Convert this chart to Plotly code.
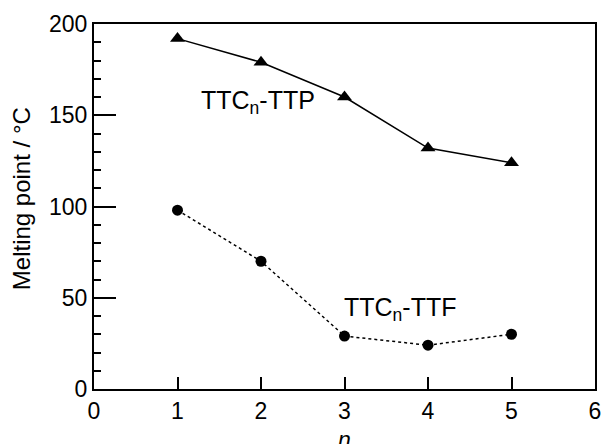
import plotly.graph_objects as go

n_vals = [1, 2, 3, 4, 5]
ttp_mp = [192, 179, 160, 132, 124]
ttf_mp = [98, 70, 29, 24, 30]
x_ticks = [0, 1, 2, 3, 4, 5, 6]
y_ticks = [0, 50, 100, 150, 200]

FONT = "Liberation Sans, Arial"

fig = go.Figure()
fig.add_trace(go.Scatter(x=n_vals, y=ttp_mp, mode="lines+markers",
                         line=dict(color="black", width=1.5),
                         marker=dict(symbol="triangle-up", size=13, color="black"),
                         showlegend=False))
fig.add_trace(go.Scatter(x=n_vals, y=ttf_mp, mode="lines+markers",
                         line=dict(color="black", width=1.5, dash="dot"),
                         marker=dict(symbol="circle", size=11, color="black"),
                         showlegend=False))

fig.add_annotation(x=1.26, y=157, text="TTC<sub>n</sub>-TTP", showarrow=False,
                   xanchor="left", yanchor="middle",
                   font=dict(family=FONT, size=25, color="black"))
fig.add_annotation(x=2.97, y=44, text="TTC<sub>n</sub>-TTF", showarrow=False,
                   xanchor="left", yanchor="middle",
                   font=dict(family=FONT, size=25, color="black"))
# axis titles
fig.add_annotation(x=3, xref="x", y=-0.098, yref="paper", text="<i>n</i>", showarrow=False,
                   xanchor="center", yanchor="top",
                   font=dict(family=FONT, size=23, color="black"))
fig.add_annotation(x=-0.1457, xref="paper", y=0.52, yref="paper", text="Melting point / °C",
                   showarrow=False, textangle=-90, xanchor="center", yanchor="middle",
                   font=dict(family=FONT, size=24, color="black"))

fig.update_layout(
    width=616, height=444,
    margin=dict(l=86, r=29, t=16, b=63),
    plot_bgcolor="white", paper_bgcolor="white",
    font=dict(family=FONT, size=23, color="black"),
    xaxis=dict(range=[0, 6], tickvals=x_ticks, ticks="inside", ticklen=12, tickwidth=1.5,
               tickcolor="black", showline=True, linecolor="black", linewidth=2, mirror=True,
               showgrid=False, zeroline=False, automargin=False),
    yaxis=dict(range=[0, 200], tickvals=y_ticks, ticks="inside", ticklen=22, tickwidth=1.5,
               tickcolor="black", showline=True, linecolor="black", linewidth=2, mirror=True,
               showgrid=False, zeroline=False, automargin=False,
               minor=dict(dtick=10, ticks="inside", ticklen=7, tickwidth=1.5, tickcolor="black", showgrid=False)),
)

fig.write_html("out.html")
